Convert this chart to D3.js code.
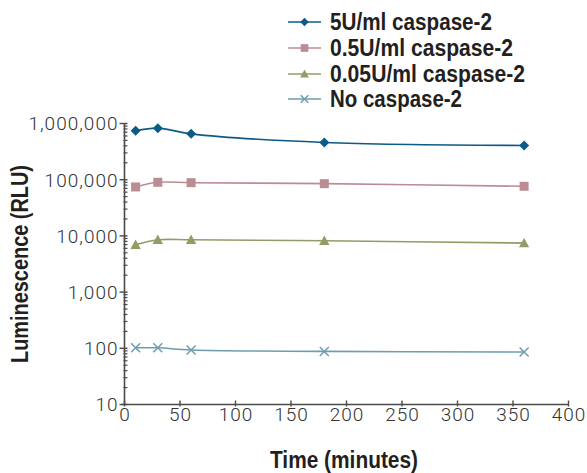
<!DOCTYPE html>
<html>
<head>
<meta charset="utf-8">
<script src="https://cdn.jsdelivr.net/npm/d3@7"></script>
<style>
  html, body { margin: 0; padding: 0; background: #fff; }
  svg { display: block; }
  .tick-label { font-family: Roboto, "Liberation Sans", Arial, sans-serif; font-weight: 300; font-size: 19px; letter-spacing: 1px; fill: #333; }
  .title { font-family: "Liberation Sans", Arial, sans-serif; font-weight: bold; font-size: 23px; fill: #231f20; }
</style>
</head>
<body>
<svg id="chart" width="587" height="473"></svg>
<script>
// Sampling times (minutes)
const times = [10, 30, 60, 180, 360];

// Luminescence (RLU) per caspase-2 concentration
const series5U = [740000, 826000, 654000, 460000, 407000];
const series05U = [74300, 90000, 88500, 85000, 76400];
const series005U = [6950, 8530, 8530, 8200, 7450];
const seriesNone = [102, 102, 93, 88, 86];

const seriesNames = ["5U/ml caspase-2", "0.5U/ml caspase-2", "0.05U/ml caspase-2", "No caspase-2"];
const seriesColors = ["#0b5b87", "#bc8c95", "#959b67", "#6e9dad"];
const seriesSymbols = ["diamond", "square", "triangle", "cross"];

const xTicks = [0, 50, 100, 150, 200, 250, 300, 350, 400];
const yTicks = [10, 100, 1000, 10000, 100000, 1000000];

const allSeries = [series5U, series05U, series005U, seriesNone];

const svg = d3.select("#chart");

const x = d3.scaleLinear().domain([0, 400]).range([124.5, 568.5]);
const y = d3.scaleLog().domain([10, 1000000]).range([404.5, 123.5]);

const axisColor = "#4a4a4a";

// Condensed bold labels: squeeze each text to its set width
function fitText(sel, width) {
  sel.attr("textLength", width).attr("lengthAdjust", "spacingAndGlyphs");
  return sel;
}

// Y axis: line, major ticks, minor log ticks
const yAxisG = svg.append("g");
yAxisG.append("line")
  .attr("x1", x(0)).attr("x2", x(0))
  .attr("y1", y(1000000)).attr("y2", y(10))
  .attr("stroke", axisColor).attr("stroke-width", 1.6);

const minorTicks = [];
for (let d = 10; d < 1000000; d *= 10) {
  for (let m = 2; m <= 9; m++) minorTicks.push(d * m);
}
yAxisG.selectAll("line.minor").data(minorTicks).enter().append("line")
  .attr("class", "minor")
  .attr("x1", x(0) - 1).attr("x2", x(0) + 3)
  .attr("y1", d => y(d)).attr("y2", d => y(d))
  .attr("stroke", axisColor).attr("stroke-width", 1.2);

yAxisG.selectAll("line.major").data(yTicks).enter().append("line")
  .attr("class", "major")
  .attr("x1", x(0) - 5).attr("x2", x(0) + 3)
  .attr("y1", d => y(d)).attr("y2", d => y(d))
  .attr("stroke", axisColor).attr("stroke-width", 1.4);

yAxisG.selectAll("text").data(yTicks).enter().append("text")
  .attr("class", "tick-label")
  .attr("x", x(0) - 6)
  .attr("y", d => y(d))
  .attr("dy", "0.36em")
  .attr("text-anchor", "end")
  .text(d => d3.format(",")(d));

// X axis
const xAxisG = svg.append("g");
xAxisG.append("line")
  .attr("x1", x(0) - 3).attr("x2", x(400))
  .attr("y1", y(10)).attr("y2", y(10))
  .attr("stroke", axisColor).attr("stroke-width", 1.6);

xAxisG.selectAll("line.tick").data(xTicks).enter().append("line")
  .attr("class", "tick")
  .attr("x1", d => x(d)).attr("x2", d => x(d))
  .attr("y1", y(10) - 4).attr("y2", y(10) + 2)
  .attr("stroke", axisColor).attr("stroke-width", 1.4);

xAxisG.selectAll("text").data(xTicks).enter().append("text")
  .attr("class", "tick-label")
  .attr("x", d => x(d) + 0.5)
  .attr("y", y(10) + 16.5)
  .attr("text-anchor", "middle")
  .text(d => d);

// Axis titles
fitText(svg.append("text")
  .attr("class", "title")
  .attr("x", 344).attr("y", 468)
  .attr("text-anchor", "middle")
  .text("Time (minutes)"), 148);

fitText(svg.append("text")
  .attr("class", "title")
  .attr("transform", "translate(28,264) rotate(-90)")
  .attr("text-anchor", "middle")
  .text("Luminescence (RLU)"), 198);

// Marker drawing
function drawMarker(g, symbol, color, cx, cy, scale) {
  const s = scale || 1;
  if (symbol === "diamond") {
    const r = 5 * s;
    g.append("path")
      .attr("d", `M${cx},${cy - r}L${cx + r},${cy}L${cx},${cy + r}L${cx - r},${cy}Z`)
      .attr("fill", color);
  } else if (symbol === "square") {
    const h = 4.5 * s;
    g.append("rect")
      .attr("x", cx - h).attr("y", cy - h)
      .attr("width", 2 * h).attr("height", 2 * h)
      .attr("fill", color);
  } else if (symbol === "triangle") {
    const r = 5.2 * s;
    g.append("path")
      .attr("d", `M${cx},${cy - r}L${cx + r},${cy + r * 0.8}L${cx - r},${cy + r * 0.8}Z`)
      .attr("fill", color);
  } else if (symbol === "cross") {
    const r = 4.5 * s;
    g.append("path")
      .attr("d", `M${cx - r},${cy - r}L${cx + r},${cy + r}M${cx - r},${cy + r}L${cx + r},${cy - r}`)
      .attr("stroke", color).attr("stroke-width", 1.5).attr("fill", "none");
  }
}

// Series lines and markers
const line = d3.line()
  .x((d, i) => x(times[i]))
  .y(d => y(d))
  .curve(d3.curveCatmullRom.alpha(0.5));

allSeries.forEach((vals, k) => {
  const g = svg.append("g");
  g.append("path")
    .datum(vals)
    .attr("d", line)
    .attr("fill", "none")
    .attr("stroke", seriesColors[k])
    .attr("stroke-width", 1.6);
  vals.forEach((v, i) => drawMarker(g, seriesSymbols[k], seriesColors[k], x(times[i]), y(v), 1));
});

// Legend
const legendRowsY = [22, 48, 74, 99];
const legendWidths = [162, 183, 195, 132];
seriesNames.forEach((name, k) => {
  const g = svg.append("g");
  const ly = legendRowsY[k];
  g.append("line")
    .attr("x1", 288).attr("x2", 321)
    .attr("y1", ly).attr("y2", ly)
    .attr("stroke", seriesColors[k]).attr("stroke-width", 1.6);
  drawMarker(g, seriesSymbols[k], seriesColors[k], 304.5, ly, 0.85);
  fitText(g.append("text")
    .attr("class", "title")
    .attr("x", 330).attr("y", ly + 8)
    .text(name), legendWidths[k]);
});
</script>
</body>
</html>
